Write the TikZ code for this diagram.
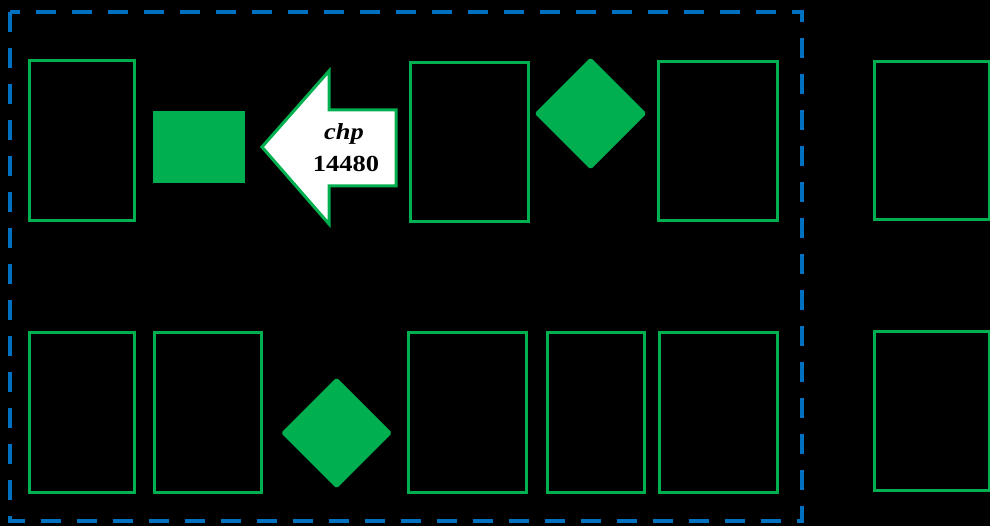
\documentclass[tikz,border=0pt]{standalone}
\usepackage{fontspec}
\setmainfont{Liberation Serif}
\usetikzlibrary{shapes.geometric}
\definecolor{boxgreen}{HTML}{00B050}
\definecolor{frameblue}{HTML}{0070C0}
\tikzset{
  box/.style={draw=boxgreen, line width=3pt, fill=black, inner sep=0pt, outer sep=0pt},
  solidbox/.style={fill=boxgreen, draw=none, inner sep=0pt},
  gem/.style={diamond, fill=boxgreen, draw=boxgreen, line width=1pt, rounded corners=1.5pt, inner sep=0pt, aspect=1},
  frame/.style={draw=frameblue, line width=4.5pt, dash pattern=on 20pt off 16pt},
  arrowshape/.style={draw=boxgreen, fill=white, line width=3pt, line join=miter},
  lbl/.style={font=\fontsize{23}{25}\selectfont\bfseries, text=black, inner sep=0pt, anchor=base}
}
\begin{document}
\begin{tikzpicture}[x=1pt,y=-1pt]
\fill[black] (0,0) rectangle (990,526);
\useasboundingbox (0,0) rectangle (990,526);
\clip (0,0) rectangle (990,526);
% dashed frame
\draw[frame] (10,12) rectangle (802,521);
% top row
\node[box, minimum width=105pt, minimum height=160pt] (r1) at (82,140.5) {};
\node[solidbox, minimum width=92pt, minimum height=72pt] (sq) at (199,147) {};
\draw[arrowshape] (262,147) -- (329,71) -- (329,110) -- (396,110) -- (396,186) -- (329,186) -- (329,224) -- cycle;
\node[lbl] (t1) at (344,140) {\scalebox{1.15}[1]{\itshape chp}};
\node[lbl] (t2) at (346,172) {\scalebox{1.15}[1]{14480}};
\node[box, minimum width=118pt, minimum height=159pt] (r2) at (469.5,142) {};
\node[gem, minimum width=111pt, minimum height=111pt] (d1) at (590.5,113.5) {};
\node[box, minimum width=119pt, minimum height=159pt] (r3) at (718,141) {};
\node[box, minimum width=115pt, minimum height=158pt] (r4) at (932,140.5) {};
% bottom row
\node[box, minimum width=105pt, minimum height=160pt] (b1) at (82,412.5) {};
\node[box, minimum width=107pt, minimum height=160pt] (b2) at (208,412.5) {};
\node[gem, minimum width=110pt, minimum height=110pt] (d2) at (336.5,433) {};
\node[box, minimum width=118pt, minimum height=160pt] (b3) at (467.5,412.5) {};
\node[box, minimum width=97pt, minimum height=160pt] (b4) at (596,412.5) {};
\node[box, minimum width=118pt, minimum height=160pt] (b5) at (718.5,412.5) {};
\node[box, minimum width=115pt, minimum height=158pt] (b6) at (932,411) {};
\end{tikzpicture}
\end{document}
